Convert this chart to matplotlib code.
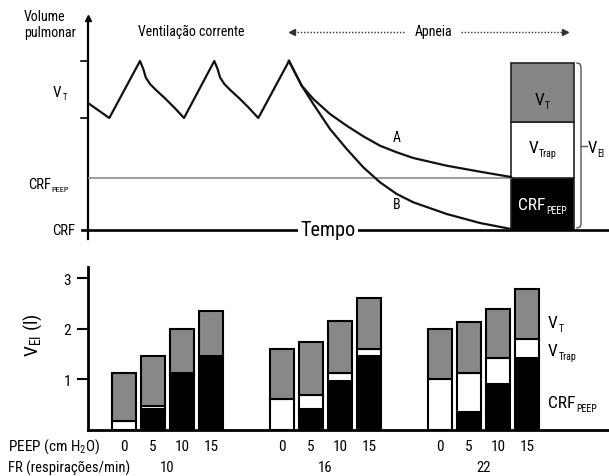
import matplotlib
matplotlib.use('Agg')
import matplotlib.pyplot as plt
from matplotlib import font_manager
from matplotlib.transforms import IdentityTransform

names = {f.name for f in font_manager.fontManager.ttflist}
base = 'DejaVu Sans'
for cand in ('Liberation Sans Narrow', 'Roboto Condensed', 'Archivo Narrow', 'DejaVu Sans Condensed'):
    if cand in names:
        base = cand
        break
plt.rcParams['font.family'] = [base, 'DejaVu Sans']
plt.rcParams['mathtext.fontset'] = 'custom'
plt.rcParams['mathtext.rm'] = base
plt.rcParams['mathtext.it'] = base
plt.rcParams['mathtext.default'] = 'regular'

# ---------------- schematic data (time / volume, arbitrary units) -------------
crf_level = 0.0
crf_peep_level = 5.2
vt_low, vt_high = 11.2, 16.9
wave_t = [0, 2.13, 5.2, 5.53, 5.77, 6.2, 6.87, 7.7, 8.7, 9.6,
          12.63, 12.96, 13.2, 13.63, 14.3, 15.13, 16.13, 17.03, 20.1]
wave_v = [12.7, 11.2, 16.9, 16.1, 15.27, 14.6, 13.93, 13.17, 12.17, 11.2,
          16.9, 16.1, 15.27, 14.6, 13.93, 13.17, 12.17, 11.2, 16.9]
apnea_t = [20.1, 21.37, 22.53, 24.2, 25.87, 27.53, 29.2, 30.87, 32.53, 35.87, 39.2, 42.3]
curve_a = [16.9, 14.43, 13.1, 11.6, 10.43, 9.37, 8.43, 7.77, 7.2, 6.43, 5.83, 5.3]
curve_b = [16.9, 14.43, 12.6, 10.1, 8.1, 6.27, 4.77, 3.6, 2.77, 1.6, 0.7, 0.1]
box_t0, box_w = 42.3, 6.3
box_parts = [5.2, 5.6, 5.9]          # CRF_PEEP, V_Trap, V_T
box_colors = ['black', 'white', '#868686']

# ---------------- bar data --------------------------------------------------
peep = [0, 5, 10, 15]
fr = [10, 16, 22]
crf_peep = {10: [0.00, 0.42, 1.08, 1.46],
            16: [0.00, 0.42, 0.96, 1.46],
            22: [0.00, 0.36, 0.91, 1.42]}
v_trap = {10: [0.18, 0.05, 0.04, 0.00],
          16: [0.62, 0.28, 0.17, 0.15],
          22: [1.01, 0.77, 0.51, 0.38]}
v_t = {10: [0.95, 0.99, 0.87, 0.89],
       16: [0.99, 1.03, 1.02, 0.99],
       22: [0.98, 1.01, 0.97, 0.99]}

W, H = 609, 477
fig = plt.figure(figsize=(W / 100, H / 100), dpi=100)
renderer = fig.canvas.get_renderer()
PX = 100 / 72.0


def sublabel(x, y, main, sub, size, tr, ha='left', color='black', subscale=0.58):
    X, Y = tr.transform((x, y))
    t1 = fig.text(0, 0, main, fontsize=size, transform=IdentityTransform(),
                  ha='left', va='baseline', color=color)
    t2 = fig.text(0, 0, sub, fontsize=size * subscale, transform=IdentityTransform(),
                  ha='left', va='baseline', color=color)
    w1 = t1.get_window_extent(renderer).width
    w2 = t2.get_window_extent(renderer).width
    total = w1 + 0.8 + w2
    if ha == 'center':
        x0 = X - total / 2
    elif ha == 'right':
        x0 = X - total
    else:
        x0 = X
    cap = 0.72 * size * PX
    b = Y - cap / 2
    t1.set_position((x0, b))
    t2.set_position((x0 + w1 + 0.8, b - 0.22 * size * PX))


# ================= top schematic =================
ax = fig.add_axes([88 / W, (H - 231) / H, 521 / W, 214 / H])
ax.set_xlim(0, 52.1)
ax.set_ylim(0, 21.4)
ax.axis('off')
lw = 1.6
ax.plot([0, 0], [-0.9, 21.0], color='black', lw=lw, clip_on=False)
ax.plot([0], [21.2], marker='^', ms=5, color='black', clip_on=False)
ax.plot([-0.6, 52.1], [0, 0], color='black', lw=lw + 0.3, clip_on=False)
for yv in (vt_low, vt_high):
    ax.plot([-0.7, 0], [yv, yv], color='black', lw=1.2, clip_on=False)
ax.plot([0, box_t0], [crf_peep_level, crf_peep_level], color='#8c8c8c', lw=1.2)
ax.plot(wave_t, wave_v, color='#111111', lw=lw, solid_joinstyle='round')
ax.plot(apnea_t, curve_a, color='#111111', lw=lw, solid_joinstyle='round')
ax.plot(apnea_t, curve_b, color='#111111', lw=lw, solid_joinstyle='round')
bottom = 0
for h_, c in zip(box_parts, box_colors):
    ax.bar(box_t0, h_, width=box_w, bottom=bottom, align='edge',
           color=c, edgecolor='#222222', lw=1.2)
    bottom += h_
top_b = sum(box_parts)
bxx = 49.3
ax.plot([48.9, bxx - 0.1, bxx, bxx, bxx - 0.1, 48.9],
        [top_b, top_b - 0.1, top_b - 0.4, 0.6, 0.3, 0.2],
        color='#555555', lw=1.0, solid_joinstyle='round')
ax.plot([bxx, 49.9], [8.4, 8.4], color='#555555', lw=1.0)
sublabel(49.95, 8.4, 'V', 'EI', 12, ax.transData)

fs = 10
ax.text(-6.4, 21.4, 'Volume', fontsize=fs, ha='left', va='center', clip_on=False)
ax.text(-6.4, 19.8, 'pulmonar', fontsize=fs, ha='left', va='center', clip_on=False)
sublabel(-2.8, 14.0, 'V', 'T', fs + 1, ax.transData, ha='center')
sublabel(-6.0, 4.7, 'CRF', 'PEEP', fs + 0.5, ax.transData)
ax.text(-3.6, 0.0, 'CRF', fontsize=fs + 0.5, ha='left', va='center')
ax.text(5.0, 19.9, 'Ventilação corrente', fontsize=10, ha='left', va='center')
ax.text(34.6, 19.9, 'Apneia', fontsize=10, ha='center', va='center')
ax.plot([20.6, 31.6], [19.85, 19.85], color='#333333', lw=1.0, ls=(0, (1, 1.3)))
ax.plot([20.4], [19.85], marker='<', ms=4, color='#333333')
ax.plot([37.3, 47.5], [19.85, 19.85], color='#333333', lw=1.0, ls=(0, (1, 1.3)))
ax.plot([47.7], [19.85], marker='>', ms=4, color='#333333')
ax.text(24.0, 0.0, 'Tempo', fontsize=14.5, ha='center', va='center',
        bbox=dict(facecolor='white', edgecolor='none', pad=1.5))
ax.text(30.9, 9.3, 'A', fontsize=fs, ha='center', va='center')
ax.text(30.9, 2.6, 'B', fontsize=fs, ha='center', va='center')
bx_c = box_t0 + box_w / 2
sublabel(bx_c, 13.25, 'V', 'T', 12.5, ax.transData, ha='center')
sublabel(bx_c, 8.45, 'V', 'Trap', 12.5, ax.transData, ha='center')
sublabel(bx_c, 2.75, 'CRF', 'PEEP', 12.5, ax.transData, ha='center', color='white')

# ================= bottom bars =================
bx_ax = fig.add_axes([88 / W, (H - 431) / H, 521 / W, 163 / H])
bx_ax.set_ylim(0, 3.22)
bx_ax.set_xlim(-1.24, 16.72)
gap = 5.45
bw = 0.83
for spine in ('top', 'right'):
    bx_ax.spines[spine].set_visible(False)
bx_ax.spines['left'].set_linewidth(2)
bx_ax.spines['bottom'].set_linewidth(2)
for g, f in enumerate(fr):
    xs = [g * gap + i for i in range(len(peep))]
    for i, x in enumerate(xs):
        b = 0
        for val, col in ((crf_peep[f][i], 'black'), (v_trap[f][i], 'white'),
                         (v_t[f][i], '#888888')):
            if val > 0:
                bx_ax.bar(x, val, width=bw, bottom=b, color=col,
                          edgecolor='black', lw=1.5)
            b += val
    bx_ax.text(g * gap + 1.5, -0.228, str(f), fontsize=10.5, ha='center', va='center',
               transform=bx_ax.get_xaxis_transform())
    for i, x in enumerate(xs):
        bx_ax.text(x, -0.098, str(peep[i]), fontsize=11, ha='center', va='center',
                   transform=bx_ax.get_xaxis_transform())
bx_ax.set_xticks([])
bx_ax.set_yticks([1, 2, 3])
bx_ax.tick_params(axis='y', direction='out', length=8, width=1.5, pad=4, labelsize=11)
sublabel(14.62, 2.15, 'V', 'T', 12.5, bx_ax.transData)
sublabel(14.62, 1.60, 'V', 'Trap', 12.5, bx_ax.transData)
sublabel(14.62, 0.57, 'CRF', 'PEEP', 12.5, bx_ax.transData)

fig.text(33 / W, (H - 335) / H, r'$V_{EI}$ (l)', fontsize=14, rotation=90,
         ha='center', va='center')
fig.text(8 / W, (H - 447) / H, r'PEEP (cm $H_2$O)', fontsize=11, ha='left', va='center')
fig.text(8 / W, (H - 468) / H, 'FR (respirações/min)', fontsize=10.5, ha='left', va='center')

fig.savefig('out.png', dpi=100)
